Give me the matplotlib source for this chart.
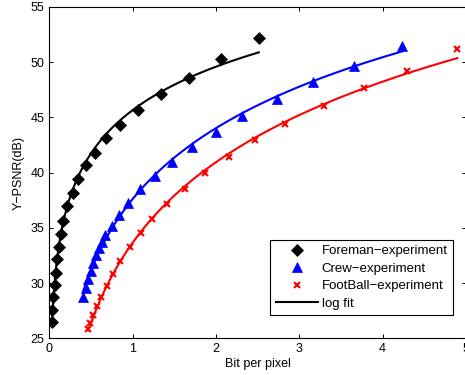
import numpy as np
import matplotlib
matplotlib.use("Agg")
import matplotlib.pyplot as plt

plt.rcParams['font.family'] = ['Liberation Sans', 'DejaVu Sans']

# rate / quality points for each sequence
foreman_bpp = [0.032, 0.036, 0.048, 0.065, 0.077, 0.096, 0.113, 0.137, 0.168, 0.209, 0.288,
               0.348, 0.437, 0.544, 0.680, 0.848, 1.060, 1.339, 1.675, 2.055, 2.514]
foreman_psnr = [26.44, 27.55, 28.76, 29.82, 30.88, 32.15, 33.23, 34.44, 35.64, 36.97, 38.12,
                39.42, 40.69, 41.80, 43.11, 44.31, 45.67, 47.09, 48.60, 50.26, 52.16]

crew_bpp = [0.408, 0.440, 0.470, 0.500, 0.527, 0.560, 0.592, 0.632, 0.672, 0.752, 0.832,
            0.940, 1.091, 1.267, 1.475, 1.714, 1.999, 2.314, 2.727, 3.166, 3.654, 4.233]
crew_psnr = [28.74, 29.55, 30.32, 31.09, 31.81, 32.54, 33.13, 33.71, 34.35, 35.16, 36.16,
             37.25, 38.47, 39.69, 40.96, 42.32, 43.68, 45.13, 46.67, 48.18, 49.66, 51.49]

football_bpp = [0.470, 0.494, 0.524, 0.572, 0.620, 0.692, 0.767, 0.853, 0.964, 1.100, 1.237,
                1.415, 1.631, 1.867, 2.161, 2.466, 2.826, 3.297, 3.777, 4.297, 4.897]
football_psnr = [25.83, 26.42, 27.06, 27.92, 28.76, 29.73, 30.82, 32.00, 33.22, 34.53, 35.77,
                 37.13, 38.51, 39.94, 41.44, 42.95, 44.40, 46.06, 47.64, 49.23, 51.20]


def log_fit(x, y):
    # least squares fit of y = a*ln(x) + b
    a, b = np.polyfit(np.log(x), y, 1)
    xs = np.linspace(min(x), max(x), 200)
    return xs, a * np.log(xs) + b


fig = plt.figure(figsize=(4.65, 3.75), dpi=100)
ax = fig.add_axes([0.106, 0.098, 0.896, 0.8835])

series = [
    (foreman_bpp, foreman_psnr, 'k', 'D', 6, 'Foreman\u2212experiment'),
    (crew_bpp, crew_psnr, 'b', '^', 6.5, 'Crew\u2212experiment'),
    (football_bpp, football_psnr, 'r', 'x', 4.5, 'FootBall\u2212experiment'),
]

handles = []
for bpp, psnr, col, mk, ms, name in series:
    h, = ax.plot(bpp, psnr, linestyle='none', marker=mk, color=col, markersize=ms,
                 markeredgewidth=1.5 if mk == 'x' else 0.5, label=name)
    handles.append(h)
    xs, ys = log_fit(np.array(bpp), np.array(psnr))
    fit_line, = ax.plot(xs, ys, color=col, linewidth=1.5)
    if col == 'k':
        fit_handle = fit_line
handles.append(fit_handle)

ax.set_xlim(0, 5)
ax.set_ylim(25, 55)
ax.set_xticks(range(0, 6))
ax.set_yticks(range(25, 60, 5))
ax.tick_params(direction='in', length=3, top=True, right=True, labelsize=9, width=0.7)
for sp in ax.spines.values():
    sp.set_linewidth(0.8)

ax.set_xlabel('Bit per pixel', fontsize=9, labelpad=2)
ax.set_ylabel('Y\u2212PSNR(dB)', fontsize=9, labelpad=4)

leg = ax.legend(handles, [s[5] for s in series] + ['log fit'],
                loc='lower right', bbox_to_anchor=(0.969, 0.07), borderaxespad=0,
                fontsize=9.5, numpoints=1, handlelength=3.2, labelspacing=0.4,
                handletextpad=0.3, fancybox=False, framealpha=1, borderpad=0.4)
leg.get_frame().set_edgecolor('k')
leg.get_frame().set_linewidth(0.8)

fig.savefig('out.png', dpi=100)
